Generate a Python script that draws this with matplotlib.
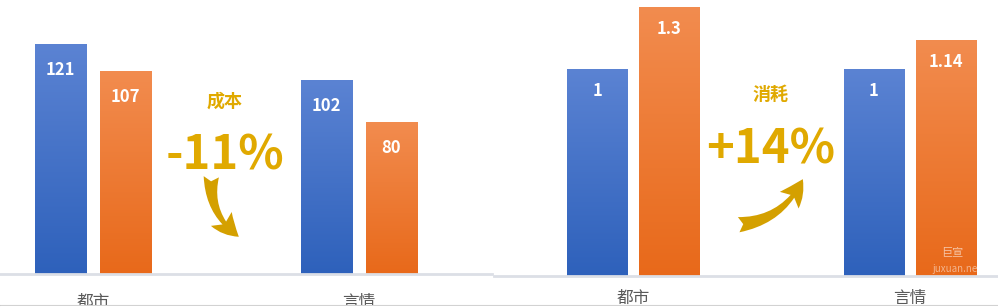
import matplotlib
matplotlib.use("Agg")
import matplotlib.pyplot as plt
from matplotlib.colors import LinearSegmentedColormap
from matplotlib.patches import FancyArrowPatch
import numpy as np

plt.rcParams['font.family'] = ['Noto Sans CJK SC', 'DejaVu Sans']

categories = ["都市", "言情"]
cost_before = [121, 102]
cost_after = [107, 80]
use_before = [1, 1]
use_after = [1.3, 1.14]
cost_labels = ["121", "102"], ["107", "80"]
use_labels = ["1", "1"], ["1.3", "1.14"]

blue_cmap = LinearSegmentedColormap.from_list("b", ["#2e61bb", "#5b83d3"])
orange_cmap = LinearSegmentedColormap.from_list("o", ["#e8691a", "#f28c4f"])
gold = "#e0a900"
tick_color = "#595959"
axis_color = "#dcdfe6"
arrow_style = "fancy,head_length=18,head_width=18,tail_width=11"


def gradient_bars(ax, bars, cmap):
    grad = np.linspace(0, 1, 256).reshape(-1, 1)
    for b in bars:
        x0, y0 = b.get_x(), b.get_y()
        w, h = b.get_width(), b.get_height()
        im = ax.imshow(grad, cmap=cmap, origin="lower", aspect="auto",
                       extent=(x0, x0 + w, y0, y0 + h), zorder=2)
        im.set_clip_path(b)
        b.set_facecolor("none")


def panel(ax, before, after, labels, xlim, ylim, width, off, lab_off, pad):
    x = np.arange(len(categories))
    b1 = ax.bar(x - off, before, width, zorder=1)
    b2 = ax.bar(x + off, after, width, zorder=1)
    gradient_bars(ax, b1, blue_cmap)
    gradient_bars(ax, b2, orange_cmap)
    for bars, labs in zip((b1, b2), labels):
        for b, t in zip(bars, labs):
            ax.annotate(t, (b.get_x() + b.get_width() / 2, b.get_height()),
                        xytext=(0, lab_off), textcoords="offset pixels",
                        ha="center", va="center", color="white",
                        fontsize=12, fontweight="bold", zorder=3)
    ax.set_xlim(*xlim)
    ax.set_ylim(*ylim)
    ax.set_xticks(x)
    ax.set_xticklabels(categories, fontsize=12, color=tick_color)
    ax.tick_params(axis="x", length=0, pad=pad)
    ax.set_yticks([])
    for s in ("top", "left", "right"):
        ax.spines[s].set_visible(False)
    ax.spines["bottom"].set_color(axis_color)
    ax.spines["bottom"].set_linewidth(2)


fig = plt.figure(figsize=(9.98, 3.07), dpi=100)
ax1 = fig.add_axes([0, 33 / 307, 492 / 998, 274 / 307])
ax2 = fig.add_axes([494 / 998, 31 / 307, 504 / 998, 276 / 307])
ax1.set_zorder(1)
ax2.set_zorder(1)

panel(ax1, cost_before, cost_after, cost_labels, (-0.35, 1.5), (0, 144.2),
      0.192, 0.122, -26, 14.5)
panel(ax2, use_before, use_after, use_labels, (-0.502, 1.318), (0, 1.333),
      0.217, 0.13, -22, 10)

# annotations left
ax1.text(0.457, 0.631, "成本", transform=ax1.transAxes, ha="center",
         va="center", color=gold, fontsize=13, fontweight="bold")
ax1.text(0.457, 0.434, "-11%", transform=ax1.transAxes, ha="center",
         va="center", color=gold, fontsize=34, fontweight="bold")
ax1.add_patch(FancyArrowPatch((0.43, 0.365), (0.49, 0.13),
                              transform=ax1.transAxes,
                              connectionstyle="arc3,rad=0.3",
                              arrowstyle=arrow_style,
                              color="#d4a000", lw=0))

# annotations right
ax2.text(0.548, 0.656, "消耗", transform=ax2.transAxes, ha="center",
         va="center", color=gold, fontsize=13, fontweight="bold")
ax2.text(0.548, 0.457, "+14%", transform=ax2.transAxes, ha="center",
         va="center", color=gold, fontsize=34, fontweight="bold")
ax2.add_patch(FancyArrowPatch((0.48, 0.185), (0.615, 0.36),
                              transform=ax2.transAxes,
                              connectionstyle="arc3,rad=0.3",
                              arrowstyle=arrow_style,
                              color="#d4a000", lw=0))

# watermark
ax2.text(0.91, 0.085, "巨宣", transform=ax2.transAxes, ha="center",
         va="center", color="white", alpha=0.6, fontsize=8)
ax2.text(0.915, 0.025, "juxuan.ne", transform=ax2.transAxes, ha="center",
         va="center", color="white", alpha=0.5, fontsize=7)

# bottom grey rule
fig.add_artist(plt.Line2D([0, 1], [1.5 / 307, 1.5 / 307], transform=fig.transFigure,
                          color="#c8c8c8", lw=1.5, zorder=10))
fig.add_artist(plt.Rectangle((0, 0), 1, 1 / 307, transform=fig.transFigure,
                             color="white", zorder=11))

fig.savefig("out.png", dpi=100)
